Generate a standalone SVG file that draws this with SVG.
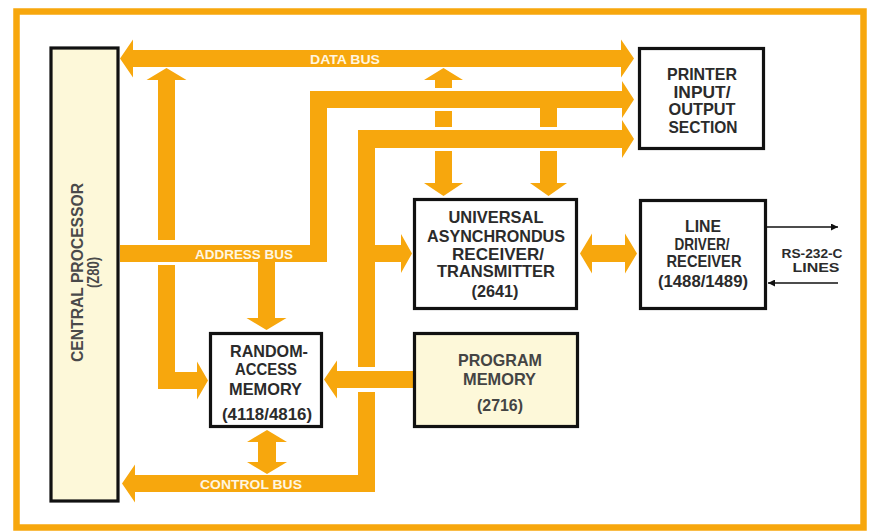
<svg xmlns="http://www.w3.org/2000/svg" width="871" height="531" viewBox="0 0 871 531">
<defs>
<style>
.bus{fill:#f7a70d}
.box{stroke:#111;stroke-width:3.2;fill:#fff}
.cream{fill:#fdf8d9}
.t{font-family:"Liberation Sans",Arial,sans-serif;font-weight:bold;font-size:16.5px;fill:#2b2b2b;text-anchor:middle}
.s{font-size:13px}
.bl{font-family:"Liberation Sans",Arial,sans-serif;font-weight:bold;font-size:13px;fill:#fff6e0;text-anchor:middle}
.sig{stroke:#111;stroke-width:1.6;fill:none}
</style>
<marker id="ah" viewBox="0 0 10 10" refX="10" refY="5" markerWidth="7" markerHeight="7" markerUnits="userSpaceOnUse" orient="auto">
<path d="M0,0 L10,5 L0,10 Z" fill="#111"/>
</marker>
</defs>
<rect x="0" y="0" width="871" height="531" fill="#fff"/>
<rect x="16.5" y="11.5" width="847" height="516" fill="#fff" stroke="#f7a70d" stroke-width="6.5"/>

<g id="connectors">
<!-- data bus -->
<polygon class="bus" points="120,58.5 133,39.5 133,50 621,50 621,39.5 634,58.5 621,77.5 621,67 133,67 133,77.5"/>
<!-- data bus to RAM (upper part) -->
<polygon class="bus" points="166.5,68 186.5,80 175,80 175,240 158,240 158,80 146.5,80"/>
<!-- data bus to RAM (lower part) -->
<polygon class="bus" points="158,265 175,265 175,372 197,372 197,361.5 208,380.5 197,399.5 197,389 158,389"/>
<!-- address bus -->
<polygon class="bus" points="120,245 310,245 310,91 622,91 622,81 634,99.5 622,118 622,108 327,108 327,262 275,262 275,318 286.5,318 266.5,330 246.5,318 258,318 258,262 120,262"/>
<!-- address bus to UART -->
<polygon class="bus" points="540,108 557,108 557,127 540,127"/>
<polygon class="bus" points="540,151 557,151 557,183 567,183 548.5,196 530,183 540,183"/>
<!-- data bus to UART (double) -->
<polygon class="bus" points="443.5,68 463,80 452,80 452,88 435,88 435,80 424,80"/>
<polygon class="bus" points="435,111 452,111 452,127 435,127"/>
<polygon class="bus" points="435,151 452,151 452,183 463,183 443.5,196 424,183 435,183"/>
<!-- control bus upper -->
<polygon class="bus" points="358,130 622,130 622,120 634,139 622,158 622,148 375,148 375,245 401,245 401,234 412,253.5 401,273 401,262 375,262 375,367 358,367"/>
<!-- control bus lower -->
<polygon class="bus" points="358,392 375,392 375,492 135,492 135,502.5 122,483.5 135,464.5 135,475 358,475"/>
<!-- program memory to RAM -->
<polygon class="bus" points="414,371 337,371 337,360.5 324,379.5 337,398.5 337,388 414,388"/>
<!-- RAM <-> control bus -->
<polygon class="bus" points="267,430 287,442 276,442 276,462 287,462 267,474 247,462 258,462 258,442 247,442"/>
<!-- UART <-> line driver -->
<polygon class="bus" points="580,253.5 592,233.5 592,245 625,245 625,233.5 637,253.5 625,273.5 625,262 592,262 592,273.5"/>
<!-- RS-232-C lines -->
<line class="sig" x1="767" y1="227" x2="838" y2="227" marker-end="url(#ah)"/>
<line class="sig" x1="838" y1="283" x2="768" y2="283" marker-end="url(#ah)"/>
<!-- bus labels -->
<text class="bl" x="345" y="63.5" textLength="70" lengthAdjust="spacingAndGlyphs">DATA BUS</text>
<text class="bl" x="244" y="258.5" textLength="98" lengthAdjust="spacingAndGlyphs">ADDRESS BUS</text>
<text class="bl" x="251" y="488.5" textLength="102" lengthAdjust="spacingAndGlyphs">CONTROL BUS</text>
</g>

<g id="cpu">
<rect class="box cream" x="51" y="48" width="67" height="453"/>
<text class="t" transform="translate(83,272.5) rotate(-90)" textLength="179" lengthAdjust="spacingAndGlyphs" style="fill:#4a4a4a">CENTRAL PROCESSOR</text>
<text class="t" transform="translate(99,272.5) rotate(-90)" textLength="31" lengthAdjust="spacingAndGlyphs" style="fill:#4a4a4a">(Z80)</text>
</g>

<g id="printer">
<rect class="box" x="639.5" y="48.5" width="124" height="100"/>
<text class="t" x="702" y="80" textLength="70" lengthAdjust="spacingAndGlyphs">PRINTER</text>
<text class="t" x="702" y="97.5" textLength="57" lengthAdjust="spacingAndGlyphs">INPUT/</text>
<text class="t" x="702" y="115" textLength="67" lengthAdjust="spacingAndGlyphs">OUTPUT</text>
<text class="t" x="703" y="133" textLength="69" lengthAdjust="spacingAndGlyphs">SECTION</text>
</g>

<g id="uart">
<rect class="box" x="414.5" y="199.5" width="162" height="109"/>
<text class="t" x="496" y="223" textLength="95" lengthAdjust="spacingAndGlyphs">UNIVERSAL</text>
<text class="t" x="496" y="242" textLength="138" lengthAdjust="spacingAndGlyphs">ASYNCHRONDUS</text>
<text class="t" x="498" y="260" textLength="92" lengthAdjust="spacingAndGlyphs">RECEIVER/</text>
<text class="t" x="496" y="277" textLength="118" lengthAdjust="spacingAndGlyphs">TRANSMITTER</text>
<text class="t" x="495" y="297" textLength="47" lengthAdjust="spacingAndGlyphs">(2641)</text>
</g>

<g id="linedriver">
<rect class="box" x="640.5" y="200.5" width="125" height="108"/>
<text class="t" x="703" y="232" textLength="36" lengthAdjust="spacingAndGlyphs">LINE</text>
<text class="t" x="702" y="250" textLength="55" lengthAdjust="spacingAndGlyphs">DRIVER/</text>
<text class="t" x="704" y="267" textLength="75" lengthAdjust="spacingAndGlyphs">RECEIVER</text>
<text class="t" x="703" y="287" textLength="90" lengthAdjust="spacingAndGlyphs">(1488/1489)</text>
</g>

<g id="rs232">
<text class="t s" x="812" y="257.5" textLength="61" lengthAdjust="spacingAndGlyphs">RS-232-C</text>
<text class="t s" x="816" y="271.5" textLength="47" lengthAdjust="spacingAndGlyphs">LINES</text>
</g>

<g id="ram">
<rect class="box" x="210.5" y="333.5" width="111" height="93"/>
<text class="t" x="269" y="357" textLength="78" lengthAdjust="spacingAndGlyphs">RANDOM-</text>
<text class="t" x="266" y="375" textLength="62" lengthAdjust="spacingAndGlyphs">ACCESS</text>
<text class="t" x="265.5" y="395" textLength="73" lengthAdjust="spacingAndGlyphs">MEMORY</text>
<text class="t" x="267" y="420" textLength="90" lengthAdjust="spacingAndGlyphs">(4118/4816)</text>
</g>

<g id="program">
<rect class="box cream" x="414.5" y="333.5" width="163" height="93"/>
<text class="t" x="500" y="366" textLength="84" lengthAdjust="spacingAndGlyphs" style="fill:#444">PROGRAM</text>
<text class="t" x="499.5" y="385" textLength="73" lengthAdjust="spacingAndGlyphs" style="fill:#444">MEMORY</text>
<text class="t" x="500" y="411" textLength="46" lengthAdjust="spacingAndGlyphs" style="fill:#444">(2716)</text>
</g>
</svg>
